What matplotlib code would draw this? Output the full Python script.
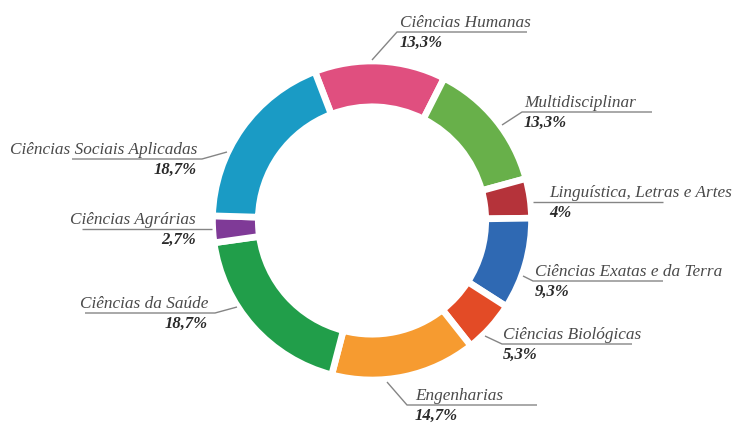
"""Donut chart: share of programmes by knowledge area."""

import matplotlib

matplotlib.use("Agg")

import matplotlib.pyplot as plt

# Canvas in pixels (dpi 100)
W, H = 738, 423

categories = [
    "Ciências Humanas",
    "Multidisciplinar",
    "Linguística, Letras e Artes",
    "Ciências Exatas e da Terra",
    "Ciências Biológicas",
    "Engenharias",
    "Ciências da Saúde",
    "Ciências Agrárias",
    "Ciências Sociais Aplicadas",
]
shares = [13.3, 13.3, 4.0, 9.3, 5.3, 14.7, 18.7, 2.7, 18.7]
share_labels = ["13,3%", "13,3%", "4%", "9,3%", "5,3%", "14,7%", "18,7%", "2,7%", "18,7%"]
colors = [
    "#e04f7f", "#68b04a", "#b5333a", "#2f69b3", "#e34b26",
    "#f69b30", "#219e4a", "#7f3a97", "#1a9bc5",
]

# Label layout in pixel coords (y from top):
# leader start on ring, elbow where the underline begins, text x, side
_LAYOUT = [
    ((372, 60), (397, 32), 400, "right"),
    ((502, 125), (522, 112), 524, "right"),
    ((533, 202), (533, 202), 549, "right"),
    ((523, 276), (533, 281), 535, "right"),
    ((485, 336), (502, 344), 503, "right"),
    ((387, 382), (407, 405), 415, "right"),
    ((237, 307), (215, 313), 208, "left"),
    ((212, 229), (212, 229), 196, "left"),
    ((227, 152), (202, 159), 197, "left"),
]
_UNDERLINE_LEN = 130
_LINE_COLOR = "#858585"
_NAME_COLOR = "#4a4a4a"
_PCT_COLOR = "#2a2a2a"
_FONT = ["Liberation Serif", "DejaVu Serif"]


def py(y):
    """Pixel row (from top) to data y."""
    return H - y


fig = plt.figure(figsize=(W / 100, H / 100), dpi=100)
ax = fig.add_axes([0, 0, 1, 1])

ax.pie(
    shares,
    colors=colors,
    center=(372, py(220.5)),
    radius=159.5,
    startangle=111,
    counterclock=False,
    wedgeprops=dict(width=45.8, edgecolor="white", linewidth=4.8),
)

for name, pct, (start, elbow, tx, side) in zip(categories, share_labels, _LAYOUT):
    sx, sy = start
    ex, ey = elbow
    end_x = ex + _UNDERLINE_LEN if side == "right" else ex - _UNDERLINE_LEN
    ax.plot([sx, ex, end_x], [py(sy), py(ey), py(ey)],
            color=_LINE_COLOR, linewidth=1.0, solid_capstyle="butt")
    ha = "left" if side == "right" else "right"
    ax.text(tx, py(ey - 5), name, ha=ha, va="baseline", fontsize=12.4,
            fontstyle="italic", color=_NAME_COLOR, family=_FONT)
    ax.text(tx, py(ey + 3), pct, ha=ha, va="top", fontsize=12,
            fontstyle="italic", fontweight="bold", color=_PCT_COLOR, family=_FONT)

ax.set_xlim(0, W)
ax.set_ylim(0, H)
ax.set_aspect("equal")
ax.axis("off")

fig.savefig("out.png", dpi=100, facecolor="white")
plt.close(fig)
